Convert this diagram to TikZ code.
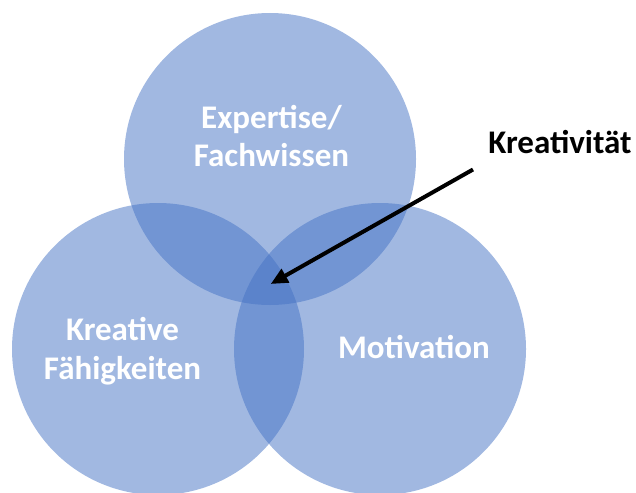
\documentclass[tikz,border=0pt]{standalone}
\usepackage{fontspec}
\setmainfont{Carlito}
\usetikzlibrary{arrows.meta}
\definecolor{vennblue}{RGB}{68,114,196}
\tikzset{
  venn/.style={circle, fill=vennblue, fill opacity=0.5, draw=none, minimum size=292pt, inner sep=0pt},
  lbl/.style={font=\bfseries\fontsize{33}{38.5}\selectfont, text=white, align=center, inner sep=0pt},
  callout/.style={font=\bfseries\fontsize{33}{38.5}\selectfont, text=black, inner sep=0pt},
  pointer/.style={line width=4pt, -{Triangle[length=17pt,width=15pt]}}
}
\begin{document}
\begin{tikzpicture}[x=1pt,y=-1pt]
\useasboundingbox (0,0) rectangle (636,492);
\node[venn] (top) at (270,159) {};
\node[venn] (left) at (158,349) {};
\node[venn] (right) at (380,349) {};
\node[lbl, anchor=base] (t1) at (271.5,166.7) {Expertise/\\Fachwissen};
\node[lbl, anchor=base] (t2) at (122.5,379.3) {Kreative\\Fähigkeiten};
\node[lbl, anchor=base] (t3) at (414,358.3) {Motivation};
\node[callout, anchor=base] (k) at (560,153.3) {Kreativität};
\coordinate (tail) at (473,169.5);
\coordinate (tip) at (270.7,284);
\draw[pointer] (tail) -- (tip);
\end{tikzpicture}
\end{document}
